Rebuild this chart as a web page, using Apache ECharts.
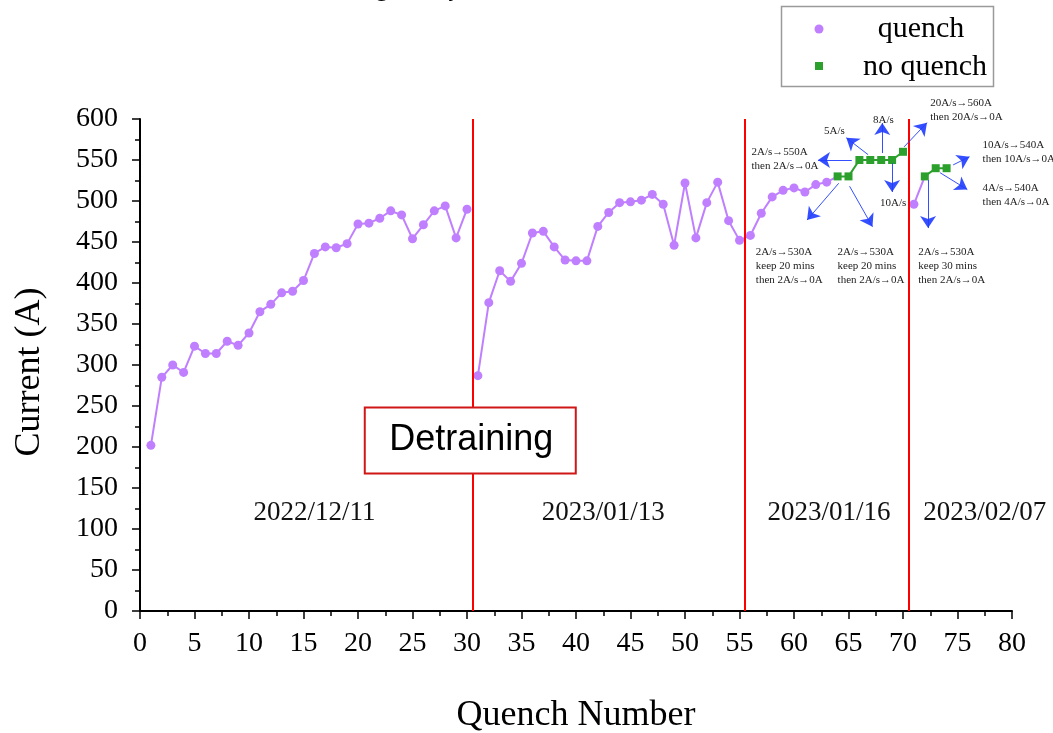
<!DOCTYPE html>
<html>
<head>
<meta charset="utf-8">
<script src="https://cdn.jsdelivr.net/npm/echarts@6/dist/echarts.min.js"></script>
<style>
  html, body { margin: 0; padding: 0; background: #fff; }
  #chart { width: 1053px; height: 733px; }
</style>
</head>
<body>
<div id="chart"></div>
<script>
// Quench runs (current reached at each quench)
const quenchNo = [
  1, 2, 3, 4, 5, 6, 7, 8, 9, 10, 11, 12, 13, 14, 15, 16, 17, 18, 19, 20,
  21, 22, 23, 24, 25, 26, 27, 28, 29, 30,
  31, 32, 33, 34, 35, 36, 37, 38, 39, 40, 41, 42, 43, 44, 45, 46, 47, 48, 49, 50,
  51, 52, 53, 54, 55,
  56, 57, 58, 59, 60, 61, 62, 63,
  71
];
const quenchA = [
  202, 285, 300, 291, 323, 314, 314, 329, 324, 339, 365, 374, 388, 390, 403, 436, 444, 443, 448, 472,
  473, 479, 488, 483, 454, 471, 488, 494, 455, 490,
  287, 376, 415, 402, 424, 461, 463, 444, 428, 427, 427, 469, 486, 498, 499, 501, 508, 496, 446, 522,
  455, 498, 523, 476, 452,
  458, 485, 505, 513, 516, 511, 520, 523,
  496
];

// Ramps that ended without a quench
const noQuenchNo = [64, 65, 66, 67, 68, 69, 70, 72, 73, 74];
const noQuenchA = [530, 530, 550, 550, 550, 550, 560, 530, 540, 540];

// Test sessions, separated by the vertical lines
const sessionBreaks = [30.5, 55.5, 70.5];
const detrainAt = 30.5;
const sessionDates = ['2022/12/11', '2023/01/13', '2023/01/16', '2023/02/07'];
const sessionLabelX = [16, 42.5, 63.2, 77.5];
const sessionLabelY = 120;

// Ramp-rate notes: arrow start, arrow end, text anchor (data coordinates)
const notes = [
  { from: [65.3, 550], to: [62.2, 550], text: '2A/s→550A\nthen 2A/s→0A', at: [56.1, 568], align: 'left' },
  { from: [66.8, 556.5], to: [64.8, 577], text: '5A/s', at: [63.7, 594], align: 'center' },
  { from: [68.1, 558.5], to: [68.1, 595], text: '8A/s', at: [68.2, 607], align: 'center' },
  { from: [69.0, 546], to: [69.0, 511], text: '10A/s', at: [69.1, 506], align: 'center' },
  { from: [70.1, 566], to: [72.2, 595.5], text: '20A/s→560A\nthen 20A/s→0A', at: [72.5, 628], align: 'left' },
  { from: [64.1, 521.6], to: [61.2, 476.8], text: '2A/s→530A\nkeep 20 mins\nthen 2A/s→0A', at: [56.5, 446], align: 'left' },
  { from: [65.1, 518], to: [67.2, 468.7], text: '2A/s→530A\nkeep 20 mins\nthen 2A/s→0A', at: [64.0, 446], align: 'left' },
  { from: [72.3, 525.6], to: [72.3, 467], text: '2A/s→530A\nkeep 30 mins\nthen 2A/s→0A', at: [71.4, 446], align: 'left' },
  { from: [74.6, 544], to: [76.1, 554], text: '10A/s→540A\nthen 10A/s→0A', at: [77.3, 577], align: 'left' },
  { from: [73.4, 534.5], to: [75.9, 514], text: '4A/s→540A\nthen 4A/s→0A', at: [77.3, 524], align: 'left' }
];

const PURPLE = '#bf7fff';
const GREEN = '#2ca02c';
const SERIF = '"Liberation Serif", "Times New Roman", serif';

// Split quench points into connected runs; a run ends at a gap in the
// numbering or at the detraining line, and reaches on to a following
// no-quench ramp when there is one.
function quenchSegments() {
  const segs = [];
  let cur = [];
  for (let i = 0; i < quenchNo.length; i++) {
    const n = quenchNo[i];
    if (cur.length) {
      const prev = cur[cur.length - 1].value[0];
      if (n !== prev + 1 || (prev < detrainAt && n > detrainAt)) {
        closeSeg(cur, prev);
        segs.push(cur);
        cur = [];
      }
    }
    cur.push({ value: [n, quenchA[i]] });
  }
  if (cur.length) {
    closeSeg(cur, cur[cur.length - 1].value[0]);
    segs.push(cur);
  }
  return segs;
}
function closeSeg(seg, last) {
  const j = noQuenchNo.indexOf(last + 1);
  if (j >= 0) seg.push({ value: [noQuenchNo[j], noQuenchA[j]], symbol: 'none' });
}
function noQuenchSegments() {
  const segs = [];
  let cur = [];
  for (let i = 0; i < noQuenchNo.length; i++) {
    const n = noQuenchNo[i];
    if (cur.length && n !== cur[cur.length - 1][0] + 1) { segs.push(cur); cur = []; }
    cur.push([n, noQuenchA[i]]);
  }
  if (cur.length) segs.push(cur);
  return segs;
}

const series = [];
quenchSegments().forEach(function (seg, k) {
  const s = {
    name: 'quench', type: 'line', data: seg,
    symbol: 'circle', symbolSize: 9, showAllSymbol: true,
    itemStyle: { color: PURPLE }, lineStyle: { color: PURPLE, width: 2 },
    z: 3, animation: false
  };
  if (k === 0) {
    s.markLine = {
      silent: true, symbol: 'none', animation: false,
      label: { show: false },
      lineStyle: { color: '#ff0000', width: 2, type: 'solid' },
      data: sessionBreaks.map(function (x) { return { xAxis: x }; })
    };
  }
  series.push(s);
});
noQuenchSegments().forEach(function (seg, k) {
  const s = {
    name: 'no quench', type: 'line', data: seg,
    symbol: 'rect', symbolSize: 8, showAllSymbol: true,
    itemStyle: { color: GREEN }, lineStyle: { color: GREEN, width: 2 },
    z: 4, animation: false
  };
  if (k === 0) {
    s.markLine = {
      silent: true, animation: false,
      symbol: ['none', 'arrow'], symbolSize: 12,
      label: { show: false },
      lineStyle: { color: '#1f3cff', width: 1, type: 'solid', opacity: 0.9 },
      data: notes.map(function (n) { return [{ coord: n.from }, { coord: n.to }]; })
    };
  }
  series.push(s);
});

const chart = echarts.init(document.getElementById('chart'), null, { renderer: 'canvas' });

chart.setOption({
  backgroundColor: '#ffffff',
  animation: false,
  grid: { left: 140, right: 41, top: 119, bottom: 122, containLabel: false },
  xAxis: {
    type: 'value', min: 0, max: 80, interval: 5,
    axisLine: { show: true, lineStyle: { color: '#000', width: 2 } },
    axisTick: { show: true, inside: false, length: 8, lineStyle: { color: '#000', width: 1.5 } },
    minorTick: { show: true, splitNumber: 2, length: 5, lineStyle: { color: '#000', width: 1.5 } },
    splitLine: { show: false },
    axisLabel: { color: '#000', fontFamily: SERIF, fontSize: 28, margin: 19 }
  },
  yAxis: {
    type: 'value', min: 0, max: 600, interval: 50,
    axisLine: { show: true, lineStyle: { color: '#000', width: 2 } },
    axisTick: { show: true, inside: false, length: 8, lineStyle: { color: '#000', width: 1.5 } },
    minorTick: { show: true, splitNumber: 2, length: 5, lineStyle: { color: '#000', width: 1.5 } },
    splitLine: { show: false },
    axisLabel: { color: '#000', fontFamily: SERIF, fontSize: 28, margin: 22 }
  },
  series: series
});

// Overlay: axis titles, session dates, notes, detraining box, key
function px(p) { return chart.convertToPixel({ gridIndex: 0 }, p); }

const graphics = [];

// chart heading, running off the top edge
graphics.push({
  type: 'text', z: 50, x: 306, y: -10,
  style: { text: 'Training history', font: '24px ' + SERIF, fill: '#000', align: 'left', verticalAlign: 'middle' }
});

// axis titles
graphics.push({
  type: 'text', z: 50, x: 30, y: 372, rotation: Math.PI / 2,
  style: { text: 'Current (A)', font: '36px ' + SERIF, fill: '#000', align: 'center', verticalAlign: 'middle' }
});
graphics.push({
  type: 'text', z: 50, x: 576, y: 716,
  style: { text: 'Quench Number', font: '36px ' + SERIF, fill: '#000', align: 'center', verticalAlign: 'middle' }
});

// session dates
sessionDates.forEach(function (d, i) {
  const p = px([sessionLabelX[i], sessionLabelY]);
  graphics.push({
    type: 'text', z: 50, x: p[0], y: p[1],
    style: { text: d, font: '27px ' + SERIF, fill: '#111', align: 'center', verticalAlign: 'middle' }
  });
});

// ramp notes
notes.forEach(function (n) {
  const p = px(n.at);
  graphics.push({
    type: 'text', z: 50, x: p[0], y: p[1],
    style: { text: n.text, font: '11px ' + SERIF, lineHeight: 14, fill: '#222', align: n.align, verticalAlign: 'top' }
  });
});

// detraining box, drawn over the first session line
(function () {
  const c = px([30.3, 208]);
  const w = 211, h = 66;
  graphics.push({
    type: 'rect', z: 60, shape: { x: c[0] - w / 2, y: c[1] - h / 2, width: w, height: h },
    style: { fill: '#fff', stroke: '#d01616', lineWidth: 2 }
  });
  graphics.push({
    type: 'text', z: 61, x: c[0] + 1, y: c[1],
    style: { text: 'Detraining', font: '36px "Liberation Sans", Arial, sans-serif', fill: '#000', align: 'center', verticalAlign: 'middle' }
  });
})();

// key
graphics.push({
  type: 'rect', z: 70, shape: { x: 781.5, y: 6.5, width: 212, height: 80 },
  style: { fill: '#fff', stroke: '#9a9a9a', lineWidth: 1.5 }
});
graphics.push({ type: 'circle', z: 71, shape: { cx: 819, cy: 29, r: 4.5 }, style: { fill: PURPLE } });
graphics.push({ type: 'rect', z: 71, shape: { x: 815, y: 62, width: 8, height: 8 }, style: { fill: GREEN } });
graphics.push({
  type: 'text', z: 71, x: 921, y: 29,
  style: { text: 'quench', font: '30px ' + SERIF, fill: '#000', align: 'center', verticalAlign: 'middle' }
});
graphics.push({
  type: 'text', z: 71, x: 925, y: 67,
  style: { text: 'no quench', font: '30px ' + SERIF, fill: '#000', align: 'center', verticalAlign: 'middle' }
});

chart.setOption({ graphic: { elements: graphics } });
</script>
</body>
</html>
